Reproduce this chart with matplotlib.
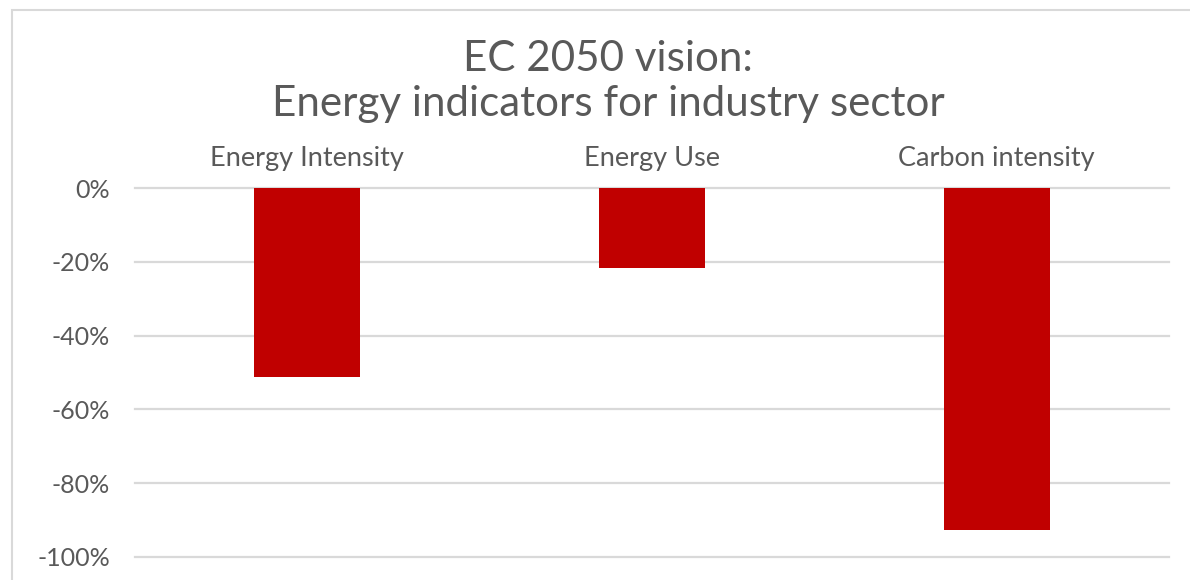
import matplotlib
matplotlib.use("Agg")
import matplotlib.pyplot as plt
from matplotlib.patches import Rectangle
from matplotlib.ticker import FuncFormatter

categories = ["Energy Intensity", "Energy Use", "Carbon intensity"]
values = [-51.2, -21.7, -92.7]
yticks = [0, -20, -40, -60, -80, -100]
title_lines = ["EC 2050 vision:", "Energy indicators for industry sector"]

plt.rcParams['font.family'] = ['Lato', 'DejaVu Sans']
text_color = "#595959"

fig = plt.figure(figsize=(11.9, 5.8), dpi=100)
# chart border (cropped on right and bottom)
fig.patches.append(Rectangle((12/1190, -0.1), 1.2, 1 - 10/580 + 0.1,
                             transform=fig.transFigure, fill=False,
                             edgecolor="#D9D9D9", linewidth=1.5))

ax = fig.add_axes([135/1190, 1 - 557/580, (1169 - 135)/1190, (557 - 188)/580])
x = list(range(len(categories)))
ax.bar(x, values, width=0.307, color="#C00000", zorder=3)
ax.set_xlim(-0.5, len(categories) - 0.5)
ax.set_ylim(-100, 0)
ax.set_yticks(yticks)
ax.yaxis.set_major_formatter(FuncFormatter(lambda v, p: f"{int(round(v))}%"))
ax.set_xticks(x)
ax.set_xticklabels(categories)
ax.xaxis.tick_top()
ax.tick_params(axis='x', length=0, pad=12, labelsize=19.5, labelcolor=text_color)
ax.tick_params(axis='y', length=0, pad=18, labelsize=18, labelcolor=text_color)
for s in ax.spines.values():
    s.set_visible(False)
ax.grid(axis='y', color="#D9D9D9", linewidth=1.6, zorder=0)
ax.set_axisbelow(True)
for gl in ax.yaxis.get_gridlines():
    gl.set_clip_on(False)

fig.text(608/1190, 1 - 59/580, title_lines[0], ha='center', va='center',
         fontsize=30.3, color=text_color)
fig.text(608/1190, 1 - 104/580, title_lines[1], ha='center', va='center',
         fontsize=30.3, color=text_color)

fig.savefig("out.png", dpi=100)
